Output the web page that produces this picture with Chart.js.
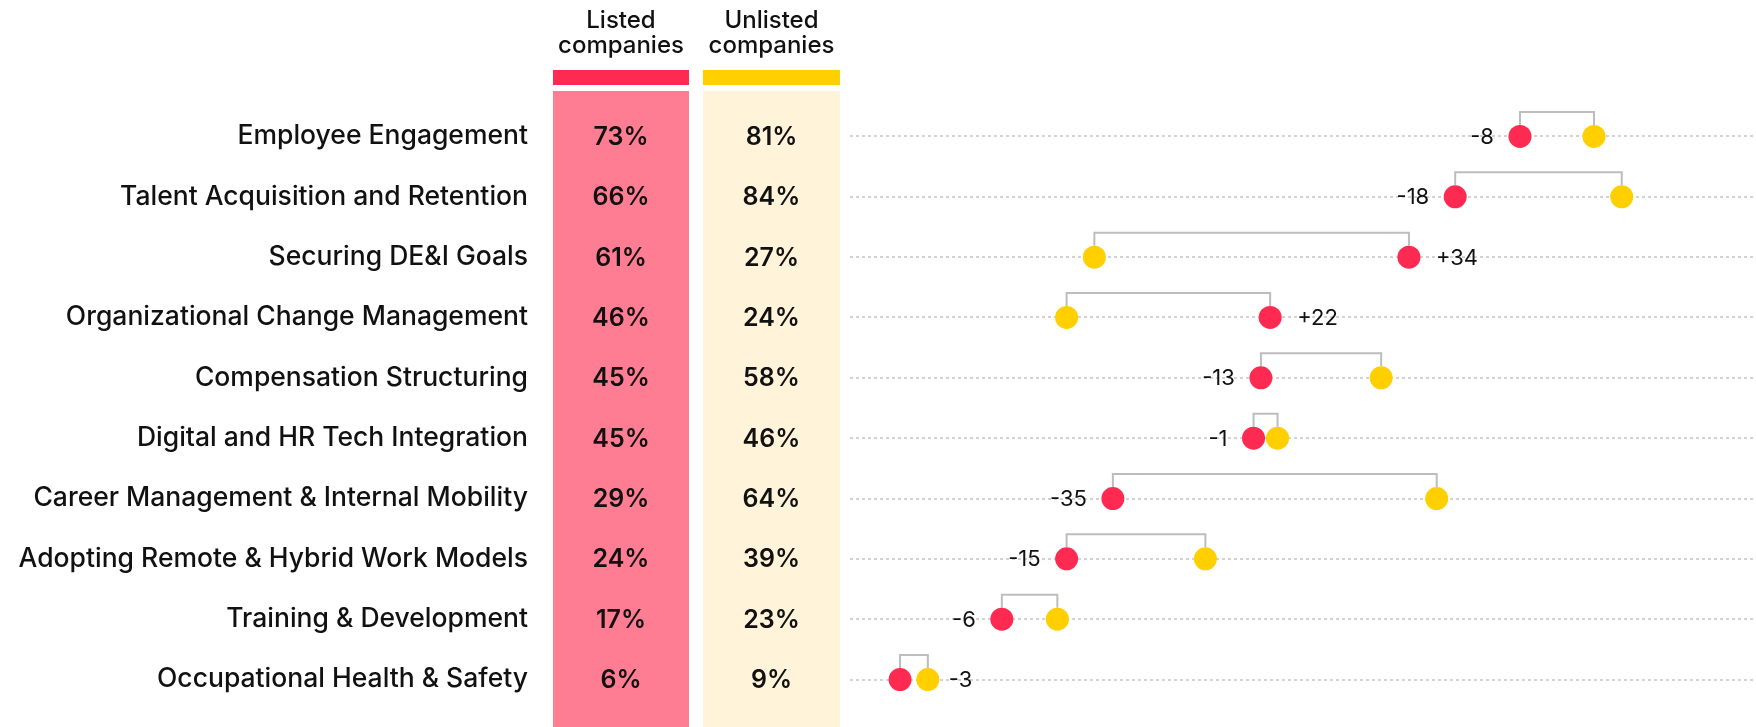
<!DOCTYPE html>
<html><head><meta charset="utf-8">
<script src="https://cdn.jsdelivr.net/npm/chart.js@4.4.1/dist/chart.umd.min.js"></script>
<style>html,body{margin:0;padding:0;background:#fff;}canvas{display:block}</style>
</head><body>
<canvas id="c" width="1756" height="727"></canvas>
<script>
const categories = [
  "Employee Engagement",
  "Talent Acquisition and Retention",
  "Securing DE&I Goals",
  "Organizational Change Management",
  "Compensation Structuring",
  "Digital and HR Tech Integration",
  "Career Management & Internal Mobility",
  "Adopting Remote & Hybrid Work Models",
  "Training & Development",
  "Occupational Health & Safety"
];
const listedValues   = [73, 66, 61, 46, 45, 45, 29, 24, 17, 6];
const unlistedValues = [81, 84, 27, 24, 58, 46, 64, 39, 23, 9];
const seriesHeaders  = [["Listed", "companies"], ["Unlisted", "companies"]];

const FONT = "Inter, 'Noto Sans', sans-serif";
const RED = '#FF2A52', YELLOW = '#FFCF00', PINK = '#FF7D93', CREAM = '#FFF3DA';
const R = 11.5;

const tablePlugin = {
  id: 'table',
  beforeDatasetsDraw(chart) {
    const ctx = chart.ctx, ys = chart.scales.y;
    const cols = [
      {l: 553, r: 689, bg: PINK, bar: RED, vals: listedValues, head: seriesHeaders[0]},
      {l: 703, r: 840, bg: CREAM, bar: YELLOW, vals: unlistedValues, head: seriesHeaders[1]}
    ];
    ctx.save();
    cols.forEach(c => {
      const cx = (c.l + c.r) / 2;
      ctx.fillStyle = c.bg; ctx.fillRect(c.l, 91, c.r - c.l, 727 - 91);
      ctx.fillStyle = c.bar; ctx.fillRect(c.l, 70, c.r - c.l, 15);
      ctx.fillStyle = '#111'; ctx.textAlign = 'center'; ctx.textBaseline = 'alphabetic';
      ctx.font = "500 24px " + FONT;
      ctx.fillText(c.head[0], cx, 28);
      ctx.fillText(c.head[1], cx, 53);
      ctx.font = "600 25px " + FONT; ctx.textBaseline = 'middle';
      c.vals.forEach((v, i) => ctx.fillText(v + '%', cx, ys.getPixelForValue(i) + 1));
    });
    // dotted row lines
    ctx.strokeStyle = '#d2d2d2'; ctx.lineWidth = 2; ctx.setLineDash([3, 3]);
    categories.forEach((_, i) => {
      const y = Math.round(ys.getPixelForValue(i));
      ctx.beginPath(); ctx.moveTo(850, y); ctx.lineTo(1756, y); ctx.stroke();
    });
    ctx.setLineDash([]);
    // nudge overlapping dots
    const a = chart.getDatasetMeta(0).data, b = chart.getDatasetMeta(1).data;
    a.forEach((p, i) => {
      const q = b[i]; const d = q.x - p.x; const m = 2 * R + 1;
      if (Math.abs(d) < m) { const s = Math.sign(d) || 1; const mid = (p.x + q.x) / 2; p.x = mid - s * m / 2; q.x = mid + s * m / 2; }
    });
    // brackets
    ctx.strokeStyle = '#bdbdbd'; ctx.lineWidth = 2;
    a.forEach((p, i) => {
      const q = b[i]; const top = p.y - 24.5;
      ctx.beginPath(); ctx.moveTo(p.x, p.y - R); ctx.lineTo(p.x, top); ctx.lineTo(q.x, top); ctx.lineTo(q.x, q.y - R); ctx.stroke();
    });
    ctx.restore();
  },
  afterDatasetsDraw(chart) {
    const ctx = chart.ctx;
    const a = chart.getDatasetMeta(0).data, b = chart.getDatasetMeta(1).data;
    ctx.save();
    ctx.font = "400 22px " + FONT; ctx.fillStyle = '#111'; ctx.textBaseline = 'middle';
    a.forEach((p, i) => {
      const q = b[i]; const d = listedValues[i] - unlistedValues[i];
      const t = (d > 0 ? '+' : '') + d; const w = ctx.measureText(t).width;
      if (p.x < q.x) {
        if (p.x - 24 - w < 860) { ctx.textAlign = 'left'; ctx.fillText(t, q.x + 21, q.y + 1); }
        else { ctx.textAlign = 'right'; ctx.fillText(t, p.x - 26, p.y + 1); }
      } else { ctx.textAlign = 'left'; ctx.fillText(t, p.x + 27, p.y + 1); }
    });
    ctx.restore();
  }
};

new Chart(document.getElementById('c'), {
  type: 'line',
  data: {
    labels: categories,
    datasets: [
      {label: 'Listed companies', data: listedValues, showLine: false, pointRadius: R, pointBorderWidth: 0, pointBackgroundColor: RED, pointBorderColor: RED},
      {label: 'Unlisted companies', data: unlistedValues, showLine: false, pointRadius: R, pointBorderWidth: 0, pointBackgroundColor: YELLOW, pointBorderColor: YELLOW}
    ]
  },
  options: {
    responsive: false, animation: false, indexAxis: 'y',
    layout: {autoPadding: false, padding: {top: 106.3, bottom: 17.3, left: 0, right: 0}},
    plugins: {legend: {display: false}, tooltip: {enabled: false}},
    scales: {
      x: {type: 'linear', min: -31.51, max: 98.51, display: false},
      y: {type: 'category', offset: true, grid: {display: false, drawTicks: false}, border: {display: false},
          ticks: {padding: 25, color: '#111', font: {family: FONT, size: 26.5, weight: '500'}},
          afterFit: s => { s.width = 553; s.paddingTop = 0; s.paddingBottom = 0; }}
    }
  },
  plugins: [tablePlugin]
});
</script>
</body></html>
